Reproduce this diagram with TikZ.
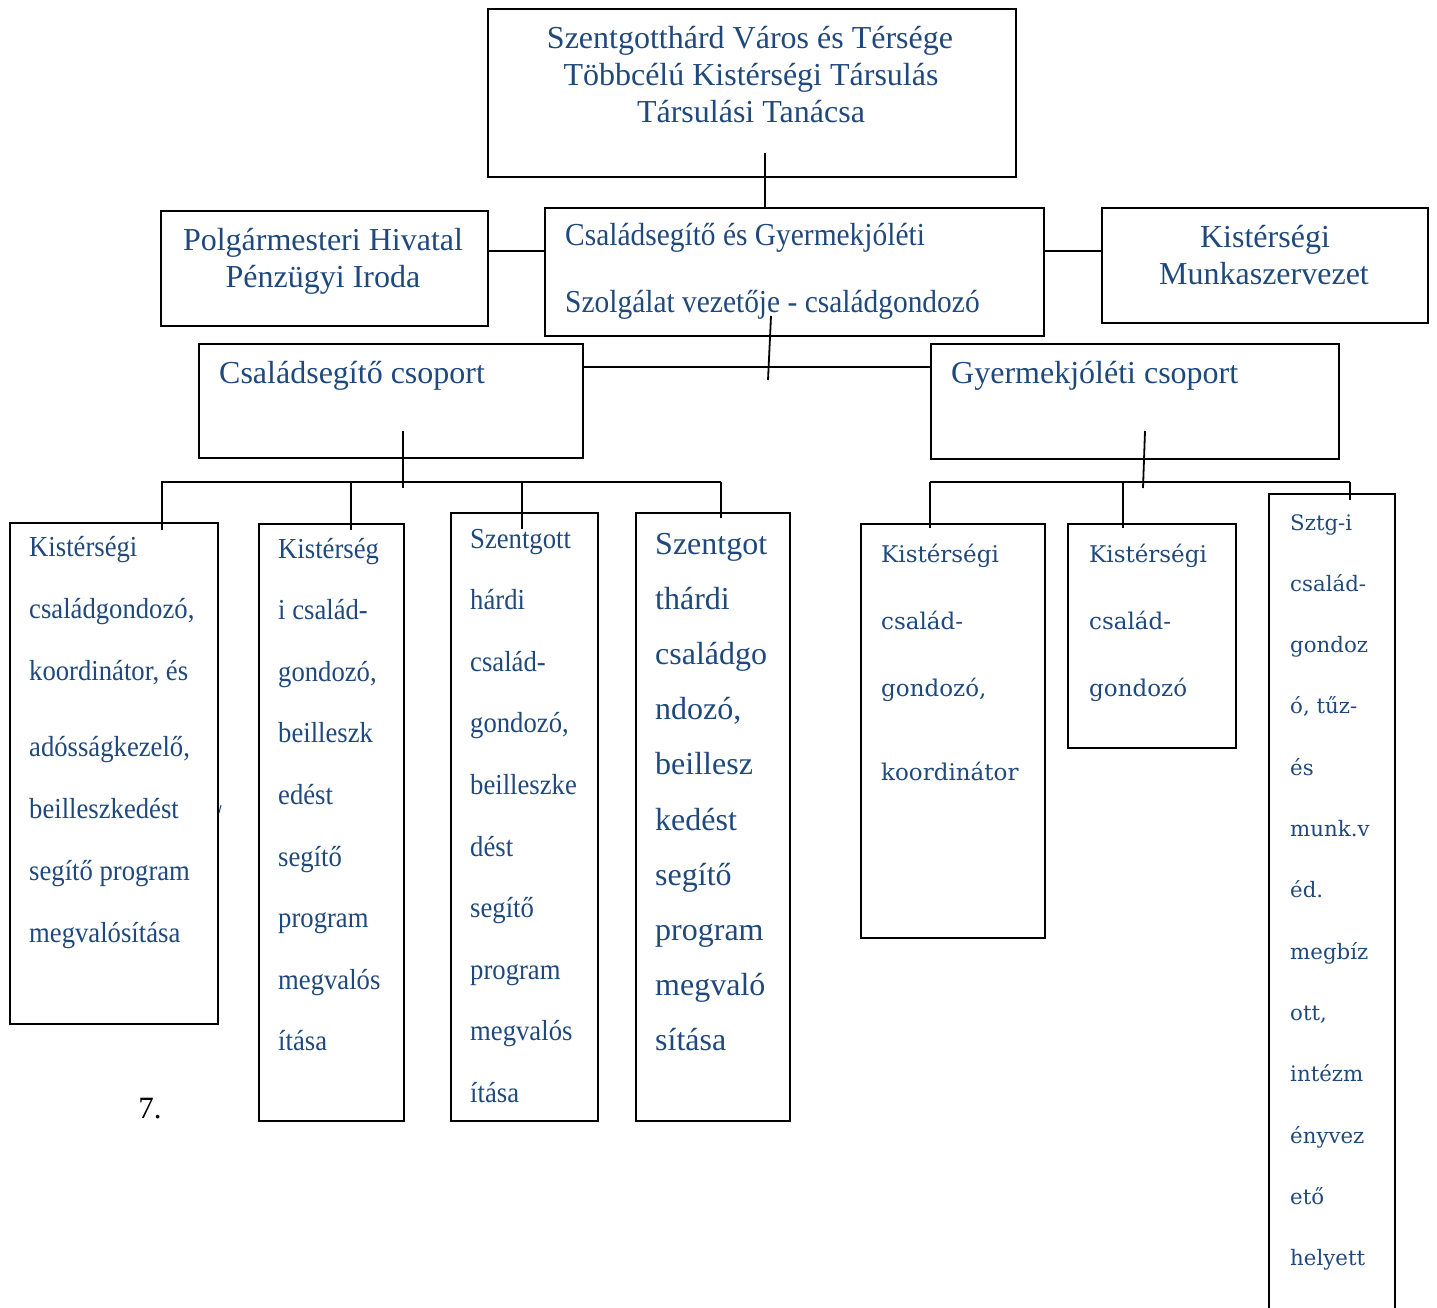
\documentclass[tikz,border=0pt]{standalone}
\usepackage{fontspec}
\setmainfont{Liberation Serif}
\newfontfamily\narrowser[FakeStretch=0.92]{Liberation Serif}
\newfontfamily\wideser{DejaVu Serif}
\definecolor{txt}{RGB}{31,73,125}
\begin{document}
\begin{tikzpicture}[x=1pt,y=-1pt,
  box/.style={draw=black,line width=1.8pt,inner sep=0pt,anchor=north west},
  conn/.style={draw=black,line width=1.8pt},
  lbl/.style={text=txt,inner sep=0pt,anchor=base},
  lblw/.style={text=txt,inner sep=0pt,anchor=base west},
  fbig/.style={font=\fontsize{32}{38}\selectfont},
  fmid/.style={font=\narrowser\fontsize{32}{38}\selectfont},
  fsmall/.style={font=\narrowser\fontsize{29}{32}\selectfont},
  fD/.style={font=\fontsize{32}{36}\selectfont},
  fE/.style={font=\wideser\fontsize{23}{26}\selectfont},
  fG/.style={font=\wideser\fontsize{21.3}{24}\selectfont}]
\useasboundingbox (0,0) rectangle (1437,1307);

% boxes
\node[box,minimum width=528pt,minimum height=168pt] (top) at (487,8) {};
\node[box,minimum width=327pt,minimum height=115pt] (polg) at (160,210) {};
\node[box,minimum width=499pt,minimum height=128pt] (mid) at (544,207) {};
\node[box,minimum width=326pt,minimum height=115pt] (munk) at (1101,207) {};
\node[box,minimum width=384pt,minimum height=114pt] (csg) at (198,343) {};
\node[box,minimum width=408pt,minimum height=115pt] (gyj) at (930,343) {};
\node[box,minimum width=208pt,minimum height=501pt] (bA) at (9,522) {};
\node[box,minimum width=145pt,minimum height=597pt] (bB) at (258,523) {};
\node[box,minimum width=147pt,minimum height=608pt] (bC) at (450,512) {};
\node[box,minimum width=154pt,minimum height=608pt] (bD) at (635,512) {};
\node[box,minimum width=184pt,minimum height=414pt] (bE) at (860,523) {};
\node[box,minimum width=168pt,minimum height=224pt] (bF) at (1067,523) {};
\node[box,draw=none,minimum width=124pt,minimum height=830pt] (bG) at (1269,494) {};
\draw[conn] (bG.south west) -- (bG.north west) -- (bG.north east) -- (bG.south east);

% top texts
\node[lbl,fbig] (t1) at (750,48) {Szentgotthárd Város és Térsége};
\node[lbl,fbig] (t2) at (751,85) {Többcélú Kistérségi Társulás};
\node[lbl,fbig] (t3) at (751,122) {Társulási Tanácsa};
\node[lbl,fbig] (p1) at (323,250) {Polgármesteri Hivatal};
\node[lbl,fbig] (p2) at (323,287) {Pénzügyi Iroda};
\node[lblw,fmid] (m1) at (565,245) {Családsegítő és Gyermekjóléti};
\node[lblw,fmid] (m2) at (565,312) {Szolgálat vezetője - családgondozó};
\node[lbl,fbig] (k1) at (1265,247) {Kistérségi};
\node[lbl,fbig] (k2) at (1264,284) {Munkaszervezet};
\node[lblw,fbig] (c1) at (219,383) {Családsegítő csoport};
\node[lblw,fbig] (g1) at (951,383) {Gyermekjóléti csoport};

% child texts
\foreach \y/\t [count=\i] in {556/Kistérségi,618/{családgondozó,},680/{koordinátor, és},756/{adósságkezelő,},818/beilleszkedést,880/segítő program,942/megvalósítása}
  \node[lblw,fsmall] (A\i) at (29,\y) {\t};
\foreach \t [count=\i from 0] in {Kistérség,i család-,{gondozó,},beilleszk,edést,segítő,program,megvalós,ítása}
  \node[lblw,fsmall] (B\i) at (278,558+61.6*\i) {\t};
\foreach \t [count=\i from 0] in {Szentgott,hárdi,család-,{gondozó,},beilleszke,dést,segítő,program,megvalós,ítása}
  \node[lblw,fsmall] (C\i) at (470,548+61.6*\i) {\t};
\foreach \t [count=\i from 0] in {Szentgot,thárdi,családgo,{ndozó,},beillesz,kedést,segítő,program,megvaló,sítása}
  \node[lblw,fD] (D\i) at (655,554+55.2*\i) {\t};
\foreach \y/\t [count=\i] in {562/Kistérségi,629/család-,696/{gondozó,},780/koordinátor}
  \node[lblw,fE] (E\i) at (881,\y) {\t};
\foreach \y/\t [count=\i] in {562/Kistérségi,629/család-,696/gondozó}
  \node[lblw,fE] (F\i) at (1089,\y) {\t};
\foreach \t [count=\i from 0] in {Sztg-i,család-,gondoz,{ó, tűz-},és,munk.v,éd.,megbíz,{ott,},intézm,ényvez,ető,helyett}
  \node[lblw,fG] (G\i) at (1290,530+61.3*\i) {\t};

\node[inner sep=0pt,anchor=base,font=\fontsize{31}{36}\selectfont] (seven) at (150,1118) {7.};

% connectors
\coordinate (topin) at (765,153);
\draw[conn] (topin) -- (topin |- mid.north);
\draw[conn] (polg.east |- 0,251) -- (mid.west |- 0,251);
\draw[conn] (mid.east |- 0,251) -- (munk.west |- 0,251);
\draw[conn] (csg.east |- 0,367) -- (gyj.west |- 0,367);
\coordinate (midin) at (771,316);
\coordinate (midout) at (768,380);
\draw[conn] (midin) -- (midout);

\coordinate (csgin) at (403,431);
\coordinate (csgout) at (403,488);
\draw[conn] (csgin) -- (csgout);
\coordinate (lbusL) at (161,482);
\coordinate (lbusR) at (721,482);
\draw[conn] (lbusL) -- (lbusR);
\draw[conn] (162,482) -- (162,530);
\draw[conn] (351,482) -- (351,530);
\draw[conn] (522,482) -- (522,529);
\draw[conn] (lbusR) -- (721,518);

\coordinate (gyjin) at (1145,431);
\coordinate (gyjout) at (1143,488);
\draw[conn] (gyjin) -- (gyjout);
\coordinate (rbusL) at (930,482);
\coordinate (rbusR) at (1350,482);
\draw[conn] (rbusL) -- (rbusR);
\draw[conn] (rbusL) -- (930,528);
\draw[conn] (1123,482) -- (1123,528);
\draw[conn] (rbusR) -- (1350,500);

% small stray mark
\draw[txt,line width=1pt] (221,805) -- (219,813);
\end{tikzpicture}
\end{document}
